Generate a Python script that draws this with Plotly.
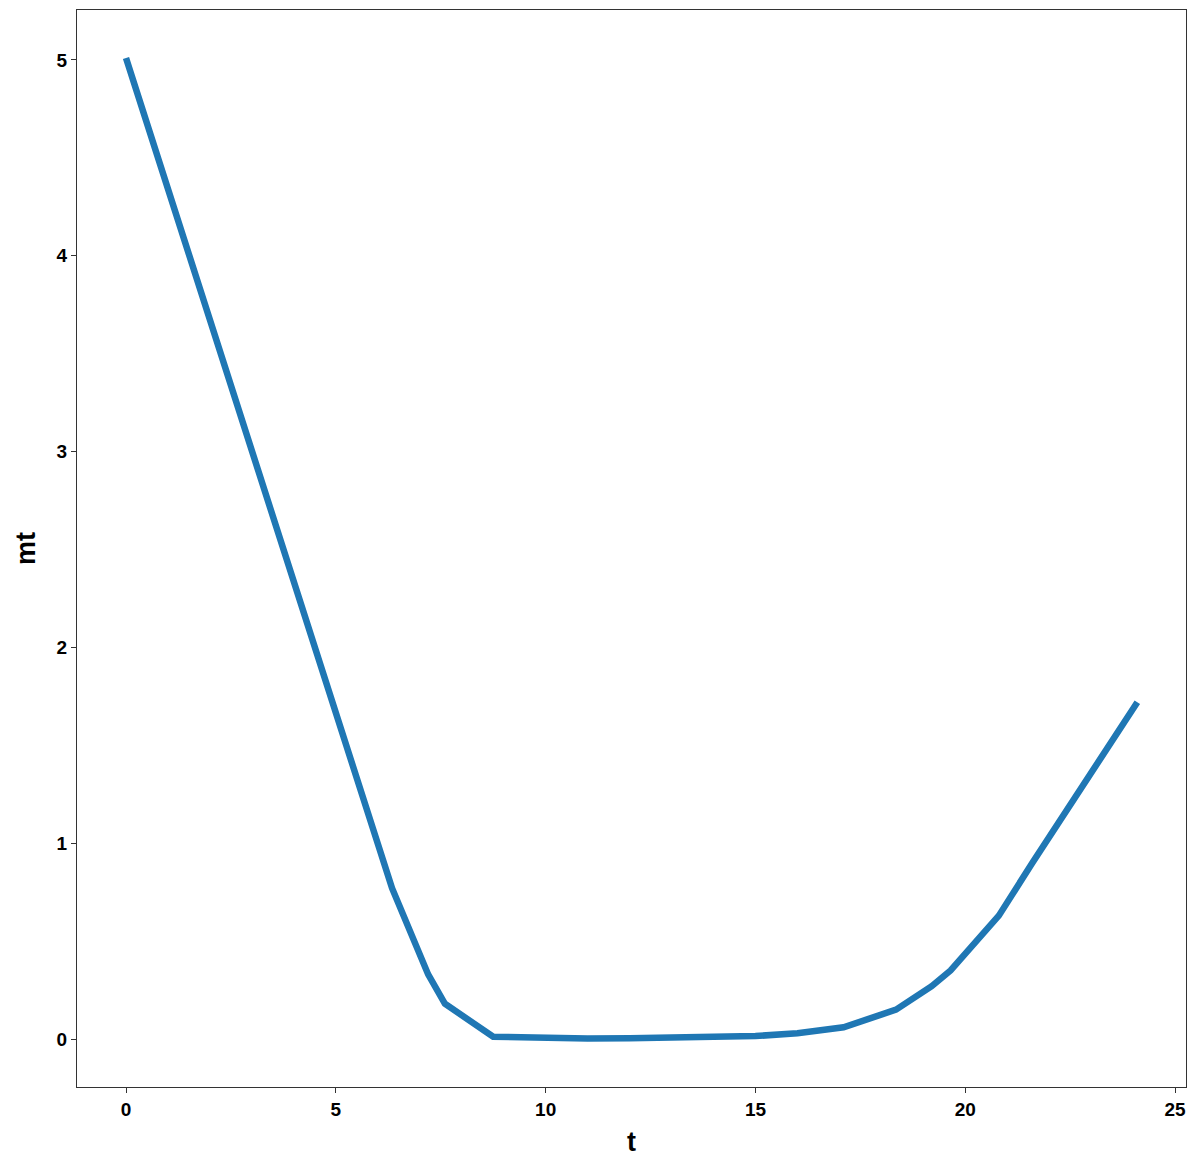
import plotly.graph_objects as go

t = [0, 6.34, 7.2, 7.6, 8.75, 10, 11, 12, 13, 14, 15, 16, 17.1, 18.35, 19.2, 19.65, 20.8, 21.6, 22.8, 24.1]
mt = [5.01, 0.77, 0.33, 0.18, 0.012, 0.005, 0.003, 0.004, 0.006, 0.01, 0.015, 0.03, 0.06, 0.15, 0.27, 0.35, 0.63, 0.9, 1.3, 1.72]

x_ticks = [0, 5, 10, 15, 20, 25]
y_ticks = [0, 1, 2, 3, 4, 5]

fig = go.Figure(go.Scatter(x=t, y=mt, mode="lines",
                           line=dict(color="#1f77b4", width=6.5)))

tickfont = dict(family="Liberation Sans, Arial, sans-serif", size=19, color="black", weight="bold")
titlefont = dict(family="Liberation Sans, Arial, sans-serif", size=27, color="black", weight="bold")

axis_common = dict(showgrid=False, zeroline=False, showline=True, mirror=True,
                   linecolor="#333333", linewidth=1.3, ticks="outside", ticklen=5,
                   tickcolor="#333333", tickwidth=1, tickfont=tickfont)

fig.update_xaxes(range=[-1.168, 25.26], tickvals=x_ticks,
                 title=dict(text="t", font=titlefont, standoff=13), **axis_common)
fig.update_yaxes(range=[-0.245, 5.255], tickvals=y_ticks,
                 title=dict(text="mt", font=titlefont, standoff=13), **axis_common)

fig.update_layout(width=1192, height=1163, plot_bgcolor="white", paper_bgcolor="white",
                  margin=dict(l=69, r=14, t=2, b=84), showlegend=False)

fig.write_html("out.html")
